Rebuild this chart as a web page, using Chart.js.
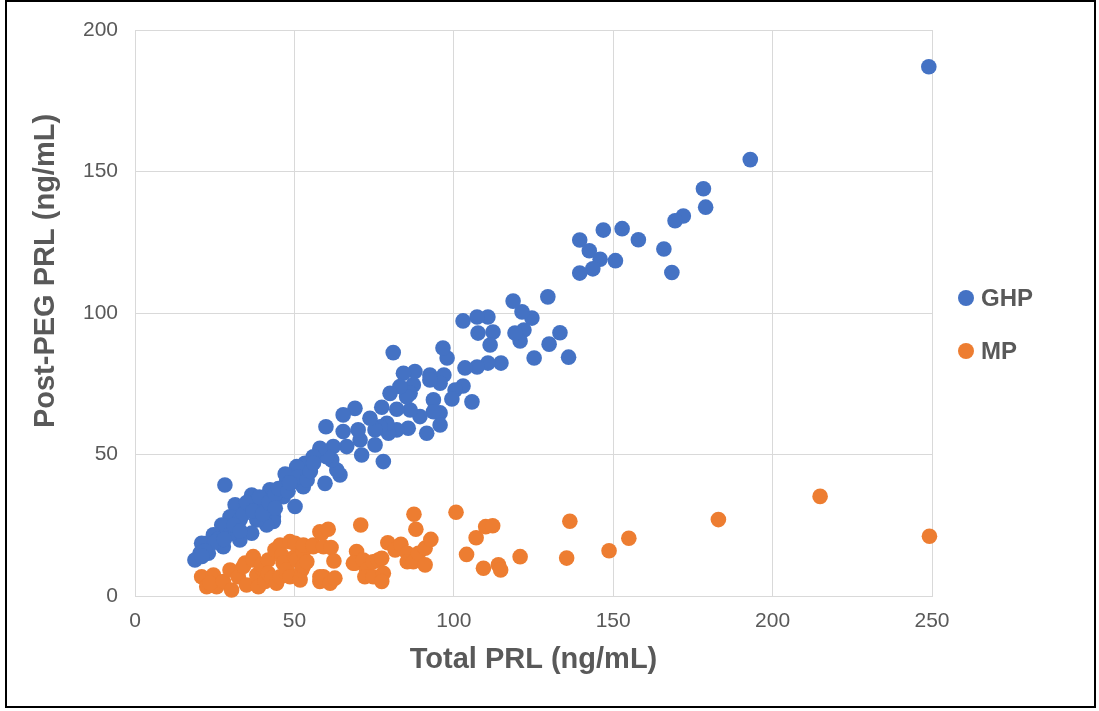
<!DOCTYPE html>
<html>
<head>
<meta charset="utf-8">
<script src="https://cdn.jsdelivr.net/npm/chart.js@4"></script>
<style>
html,body{margin:0;padding:0;background:#fff;}
canvas{display:block;}
</style>
</head>
<body>
<canvas id="c" width="1099" height="711"></canvas>
<script>
// ---- Data (Total PRL, Post-PEG PRL), ng/mL ----
const seriesNames = ['GHP', 'MP'];
const xTicks = [0, 50, 100, 150, 200, 250];
const yTicks = [0, 50, 100, 150, 200];
const xTitle = 'Total PRL (ng/mL)';
const yTitle = 'Post-PEG PRL (ng/mL)';

const ghpPoints = [
  [249,187],[193,154.2],[178.3,143.9],[179,137.4],[172,134.3],[169.4,132.6],[165.9,122.6],[168.4,114.3],
  [157.9,125.9],[152.8,129.8],[146.9,129.3],[139.5,125.8],[142.5,122],[145.9,119],[150.7,118.5],[143.6,115.6],[139.5,114.1],
  [133.3,93],[136,84.4],[129.5,105.7],[129.9,89],[125.2,84.1],[124.5,98.2],[122,94],[121.4,100.4],[120.8,90.1],
  [119.2,92.9],[118.6,104.2],[114.8,82.3],[112.3,93.3],[111.4,88.7],[110.7,98.6],[110.7,82.3],[107.6,92.9],
  [107.3,98.6],[107.3,80.9],[105.7,68.6],[103.5,80.6],[102.9,97.2],[102.9,74.2],[100.4,72.8],[99.4,69.6],
  [97.9,84.1],[96.6,87.6],[96.9,78.1],[95.7,75.2],[95.7,64.7],[95.7,60.4],
  [93.6,69.3],[93.6,65.1],[92.5,78.1],[92.5,76.3],[91.5,57.5],[89.4,63.4],[87.8,79.3],[87.3,74.6],[86.3,71.6],
  [86.3,65.7],[85.7,59.3],[85.2,70.4],[84.2,78.7],[83.1,74],[82.1,66],[82.1,58.7],[81,86],[80,71.6],[79.5,57.5],
  [79,61],[77.9,47.5],[77.4,66.7],[76.9,59.8],[75.3,58.7],[75.3,53.4],[73.7,62.8],[71.1,49.8],[70.6,55.1],
  [70,58.7],[69,66.3],[66.4,52.8],[65.3,64],[65.3,58.1],[64.3,42.8],[63.3,44.5],[62.2,52.8],[61.7,48.1],
  [60.1,49.2],[59.9,59.8],[59.6,39.8],[58,52.2],[55.9,49.2],[53.3,44.5],[53.3,46.9],[52.8,38.6],[52.3,42.2],
  [50.7,45.7],[50.2,31.6],[47.6,41],[47.1,43.1],[46.5,35.1],[42.3,37.5],[43.4,28],[43.4,26.3],[41.3,25.1],
  [40.2,33.9],[38.2,31],[38.2,26.9],[36.6,35.7],[36.6,22.2],[36.1,31.6],[32.9,19.8],[31.9,30.4],[31.4,32.2],
  [29.8,28],[28.8,24.5],[28.2,39.2],[27.7,17.4],[27.2,25.1],[24.6,21.6],[23,15.1],[22.5,18.6],[20.9,18.6],
  [20.4,15.1],[18.8,12.7],
  [33,27],[34,29],[35,33],[37,30],[39,35],[40,29],[42,33],[44,36],[45,38],[48,37],[49,40],[51,42],[54,41],
  [55,44],[56,47],[44,31],[26,20],[30,22],[31,25],[33,23],[25,19],[22,16],[21,14],[28,20],[48.5,40]
];

const mpPoints = [
  [20.9,6.8],[22.5,3.3],[24.6,7.4],[25.6,3.3],[23.5,4.5],[27.7,5.1],[29.8,9.2],[30.3,2.1],[32.4,6.8],
  [34.5,11.6],[34,10.4],[35,3.9],[37.1,13.9],[37.1,12.7],[38.2,7.4],[38.7,3.3],[39.7,9.8],[39.7,11],
  [40.8,5.1],[41.8,12.7],[41.8,8],[42.9,6.3],[43.9,16.3],[44.4,4.5],[45.5,18],[45.5,6.8],[46,14.5],
  [46.5,11.6],[47.6,7.4],[47.6,9.2],[48.6,19.2],[48.6,6.8],[50.2,13.9],[50.2,18.6],[50.7,12.7],[51.8,5.7],
  [52.3,9.2],[52.8,15.7],[52.8,18],[52.8,10.4],[53.9,12.1],[55.9,17.4],[55.9,18],[58,22.7],[58.6,22.2],
  [59.1,17.4],[58,6.8],[58,5.1],[59.1,6.8],[60.6,23.6],[61.5,17.1],[62.4,12.4],[61.2,4.5],[62.7,6.3],
  [69.5,15.7],[68.5,11.6],[69,11.6],[70.8,25.1],[71.6,12.7],[72.7,9.2],[72.1,6.8],[74.7,12.1],[74.7,6.8],
  [76.3,12.7],[77.4,13.3],[77.9,8],[77.4,5.1],[79.3,18.8],[81.6,16.3],[83.4,18.3],[85.4,15.1],[85.4,12.1],
  [87.3,12.1],[88.9,15.1],[87.5,28.9],[88.1,23.6],[91,16.9],[91,11],[92.8,20],[100.7,29.6],[104,14.7],
  [107,20.6],[109.3,9.8],[110,24.5],[112.2,24.8],[114,11],[114.7,9.2],[120.8,13.9],[135.4,13.4],[136.4,26.4],
  [148.7,16],[154.9,20.4],[183,27],[214.9,35.2],[249.2,21.1]
];

const ghpColor = '#4472C4';
const mpColor = '#ED7D31';
const textColor = '#595959';
const gridColor = '#D9D9D9';
const fontFamily = '"Liberation Sans", Arial, sans-serif';

const toXY = pts => pts.map(p => ({x: p[0], y: p[1]}));

const framePlugin = {
  id: 'frame',
  beforeDraw(chart) {
    const ctx = chart.ctx;
    ctx.save();
    ctx.fillStyle = '#fff';
    ctx.fillRect(0, 0, chart.width, chart.height);
    ctx.restore();
  },
  afterDraw(chart) {
    const ctx = chart.ctx;
    ctx.save();
    // outer border
    ctx.strokeStyle = '#000';
    ctx.lineWidth = 2;
    ctx.strokeRect(6, 1, 1089, 706);
    // y-axis title
    ctx.fillStyle = textColor;
    ctx.font = 'bold 29px ' + fontFamily;
    ctx.textAlign = 'center';
    ctx.textBaseline = 'middle';
    ctx.translate(46, 271);
    ctx.rotate(-Math.PI / 2);
    ctx.fillText(yTitle, 0, 0);
    ctx.restore();
    // legend
    ctx.save();
    const items = [[seriesNames[0], ghpColor, 298], [seriesNames[1], mpColor, 351]];
    ctx.font = 'bold 24px ' + fontFamily;
    ctx.textAlign = 'left';
    ctx.textBaseline = 'middle';
    items.forEach(([label, color, y]) => {
      ctx.fillStyle = color;
      ctx.beginPath();
      ctx.arc(966, y, 8, 0, Math.PI * 2);
      ctx.fill();
      ctx.fillStyle = textColor;
      ctx.fillText(label, 981, y + 1);
    });
    ctx.restore();
  }
};

new Chart(document.getElementById('c'), {
  type: 'scatter',
  data: {
    datasets: [
      {label: seriesNames[0], data: toXY(ghpPoints), backgroundColor: ghpColor, borderColor: ghpColor,
       pointRadius: 7.8, borderWidth: 0, order: 1, clip: false},
      {label: seriesNames[1], data: toXY(mpPoints), backgroundColor: mpColor, borderColor: mpColor,
       pointRadius: 7.8, borderWidth: 0, order: 0, clip: false}
    ]
  },
  options: {
    responsive: false,
    animation: false,
    devicePixelRatio: 1,
    layout: {padding: {left: 0, top: 30, right: 167, bottom: 0}},
    plugins: {legend: {display: false}, tooltip: {enabled: false}},
    scales: {
      x: {
        type: 'linear', min: xTicks[0], max: xTicks[xTicks.length - 1],
        afterBuildTicks: s => { s.ticks = xTicks.map(v => ({value: v})); },
        afterFit: s => { s.height = 115; },
        ticks: {padding: 13, color: textColor, font: {family: fontFamily, size: 21}},
        grid: {color: gridColor, lineWidth: 1, drawTicks: false},
        border: {color: gridColor, width: 1},
        title: {display: true, text: xTitle, color: textColor,
                font: {family: fontFamily, size: 29, weight: 'bold'}, padding: {top: 0, bottom: 34}}
      },
      y: {
        type: 'linear', min: yTicks[0], max: yTicks[yTicks.length - 1],
        afterBuildTicks: s => { s.ticks = yTicks.map(v => ({value: v})); },
        afterFit: s => { s.width = 135; },
        ticks: {padding: 17, color: textColor, font: {family: fontFamily, size: 21}},
        grid: {color: gridColor, lineWidth: 1, drawTicks: false},
        border: {color: gridColor, width: 1},
        title: {display: false}
      }
    }
  },
  plugins: [framePlugin]
});
</script>
</body>
</html>
